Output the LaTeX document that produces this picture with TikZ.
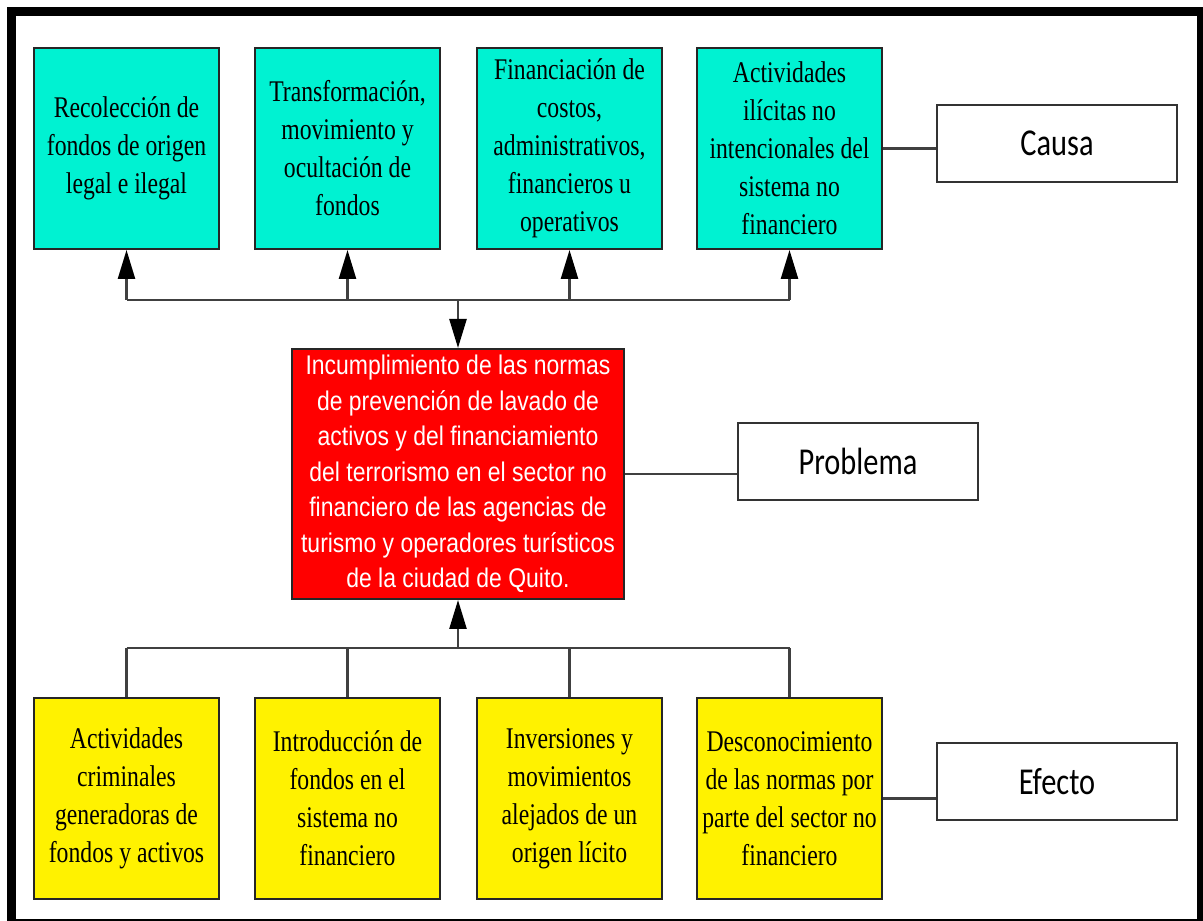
\documentclass[tikz,border=0pt]{standalone}
\usepackage{fontspec}
\setmainfont{Liberation Serif}[FakeStretch=0.79]
\newfontfamily\redfont{Liberation Sans}[FakeStretch=0.85]
\newfontfamily\labelfont{Carlito}[FakeStretch=0.8]
\usepackage{tikz}
\usetikzlibrary{arrows.meta, positioning}
\definecolor{causecyan}{RGB}{0,242,210}
\definecolor{linegray}{RGB}{64,64,64}

\begin{document}
\begin{tikzpicture}[x=1pt, y=1pt,
            box/.style={draw=black!85, line width=2pt, rectangle, minimum width=185pt, minimum height=201pt, inner sep=0pt, align=center, font=\fontsize{30}{38}\selectfont},
            cause/.style={box, fill=causecyan},
            effect/.style={box, fill=yellow},
            problem/.style={draw=black!85, line width=2pt, rectangle, fill=red, text=white, minimum width=332pt, minimum height=250pt, inner sep=0pt, align=center, font=\redfont\fontsize{27}{35.5}\selectfont},
            tag/.style={draw=black!80, line width=2pt, rectangle, fill=white, minimum width=240pt, minimum height=77pt, inner sep=0pt, font=\labelfont\fontsize{38}{40}\selectfont},
            link/.style={draw=linegray, line width=2.5pt},
            arrow/.style={link, -{Triangle[length=29pt, width=17pt, color=black]}}]

            \clip (0,0) rectangle (1203,921);
            \fill[white] (0,0) rectangle (1203,921);

            % causas
            \node[cause] (t1) at (126.5,772.5) {Recolección de\\fondos de origen\\legal e ilegal};
            \node[cause] (t2) at (347.5,772.5) {Transformación,\\movimiento y\\ocultación de\\fondos};
            \node[cause] (t3) at (569.5,772.5) {Financiación de\\costos,\\administrativos,\\financieros u\\operativos};
            \node[cause] (t4) at (789.5,772.5) {Actividades\\ilícitas no\\intencionales del\\sistema no\\financiero};

            % problema
            \node[problem] (red) at (458,447) {Incumplimiento de las normas\\de prevención de lavado de\\activos y del financiamiento\\del terrorismo en el sector no\\financiero de las agencias de\\turismo y operadores turísticos\\de la ciudad de Quito.};

            % efectos
            \node[effect] (b1) at (126.5,122.5) {Actividades\\criminales\\generadoras de\\fondos y activos};
            \node[effect] (b2) at (347.5,122.5) {Introducción de\\fondos en el\\sistema no\\financiero};
            \node[effect] (b3) at (569.5,122.5) {Inversiones y\\movimientos\\alejados de un\\origen lícito};
            \node[effect] (b4) at (789.5,122.5) {Desconocimiento\\de las normas por\\parte del sector no\\financiero};

            \node[tag] (causa) at (1057,777.5) {Causa};
            \node[tag] (prob) at (858,459.5) {Problema};
            \node[tag] (efecto) at (1057,139.5) {Efecto};

            \coordinate (topbus) at (458,621);
            \coordinate (botbus) at (458,273);

            \draw[link] (t1.south |- topbus) -- (t4.south |- topbus);
            \foreach \n in {t1,t2,t3,t4}
                \draw[arrow] (\n.south |- topbus) -- (\n.south);
            \draw[arrow] (topbus) -- (red.north);

            \draw[link] (b1.north |- botbus) -- (b4.north |- botbus);
            \foreach \n in {b1,b2,b3,b4}
                \draw[link] (\n.north) -- (\n.north |- botbus);
            \draw[arrow] (botbus) -- (red.south);

            \draw[link] (t4.east) -- (t4.east -| causa.west);
            \draw[link] (red.east) -- (red.east -| prob.west);
            \draw[link] (b4.east) -- (b4.east -| efecto.west);

            % marco
            \draw[line width=9pt] (11,-2.5) rectangle (1201.5,909.5);
        \end{tikzpicture}
\end{document}
